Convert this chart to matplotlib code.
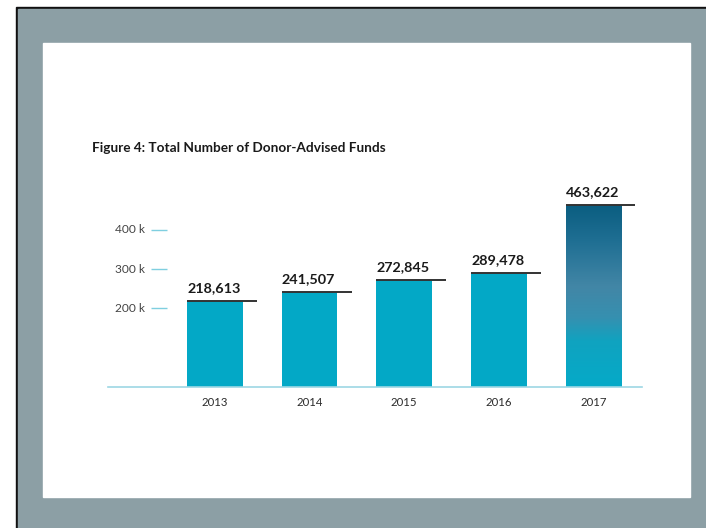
import numpy as np
import matplotlib
matplotlib.use("Agg")
import matplotlib.pyplot as plt
from matplotlib.colors import LinearSegmentedColormap
from matplotlib.patches import Rectangle

years = ["2013", "2014", "2015", "2016", "2017"]
funds = [218613, 241507, 272845, 289478, 463622]
tick_values = [200000, 300000, 400000]
tick_labels = ["200 k", "300 k", "400 k"]
title = "Figure 4: Total Number of Donor-Advised Funds"

plt.rcParams["font.family"] = ["Lato", "DejaVu Sans"]

bar_color = "#03a8c6"
text_color = "#2b2b2b"
axis_blue = "#9dd7e4"

fig = plt.figure(figsize=(7.06, 5.28), dpi=100)
fig.patch.set_facecolor("white")

# slate frame with a white page on top, laid out in pixel units
bg = fig.add_axes([0, 0, 1, 1])
bg.set_xlim(0, 706)
bg.set_ylim(528, 0)
bg.axis("off")
bg.add_patch(Rectangle((16, 7), 690, 521, color="#111111"))
bg.add_patch(Rectangle((18, 9), 688, 519, color="#8c9fa5"))
bg.add_patch(Rectangle((43, 43), 647, 454, color="white"))
bg.text(92, 148, title, ha="left", va="center", fontsize=9.8,
        fontweight="bold", color="#1a1a1a")

ax = fig.add_axes([108 / 706, (528 - 387) / 528, 534 / 706, 196.3 / 528])
ax.patch.set_alpha(0)

x = np.arange(len(years))
width = 0.587
bars = ax.bar(x, funds, width=width, color=bar_color, zorder=2)

# 2017 bar gets a vertical teal-to-navy gradient
grad_cmap = LinearSegmentedColormap.from_list("dark_top", [
    (0.0, "#05aac8"), (0.25, "#10a3c0"), (0.38, "#3690b0"),
    (0.55, "#4286a6"), (0.8, "#1f6f93"), (1.0, "#0a5d80")])
last = bars[-1]
last.set_facecolor("none")
grad = np.linspace(0, 1, 256).reshape(-1, 1)
im = ax.imshow(grad, cmap=grad_cmap, origin="lower", aspect="auto",
               extent=(x[-1] - width / 2, x[-1] + width / 2, 0, funds[-1]),
               zorder=2)
im.set_clip_path(last)

# dark cap line and value above each bar
for xi, v in zip(x, funds):
    ax.hlines(v, xi - width / 2, xi + width / 2 + 0.15, color="#333333",
              lw=1.4, zorder=3)
    ax.annotate(f"{v:,}", (xi - width / 2, v), xytext=(0, 6.5),
                textcoords="offset points", ha="left", va="baseline",
                fontsize=10.4, fontweight="bold", color="#1a1a1a")

# value guides drawn inside the plot, left of the first bar
for v, lab in zip(tick_values, tick_labels):
    ax.hlines(v, -0.677, -0.507, color="#7fcfe0", lw=1, zorder=1)
    ax.text(-0.74, v, lab, ha="right", va="center", fontsize=8.6,
            color="#444444")

ax.set_xlim(-1.131, 4.514)
ax.set_ylim(0, 500000)
ax.set_xticks(x, years)
ax.set_yticks([])
ax.tick_params(axis="x", length=0, pad=7, labelsize=8.2, labelcolor=text_color)
for side in ["top", "right", "left"]:
    ax.spines[side].set_visible(False)
ax.spines["bottom"].set_color(axis_blue)
ax.spines["bottom"].set_linewidth(1.2)

fig.savefig("out.png", dpi=100)
